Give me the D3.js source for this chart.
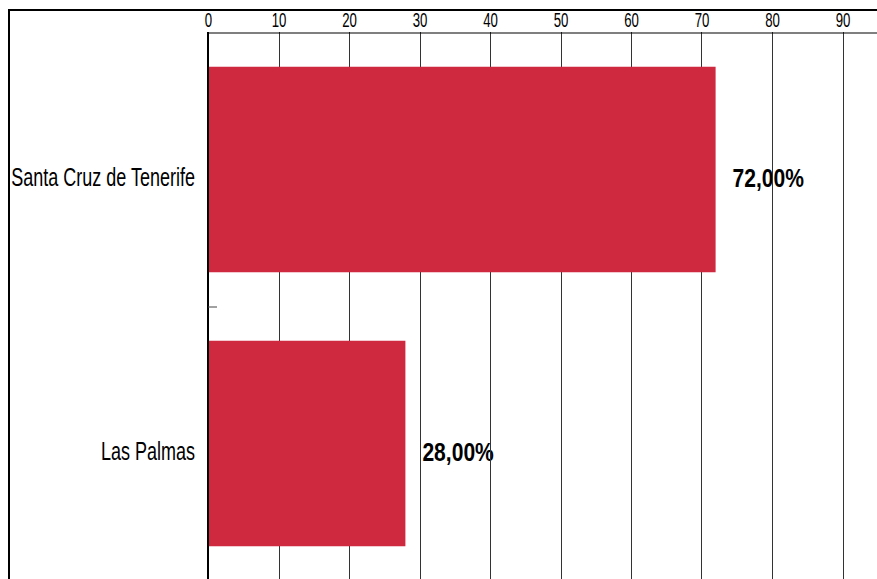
<!DOCTYPE html>
<html><head><meta charset="utf-8">
<script src="https://cdn.jsdelivr.net/npm/d3@7"></script>
<style>html,body{margin:0;padding:0;background:#fff;overflow:hidden}
text{font-family:"Liberation Sans",Arial,sans-serif}</style>
</head><body>
<script>
const categories = ["Santa Cruz de Tenerife", "Las Palmas"];
const values = [72.00, 28.00];
const valueLabels = ["72,00%", "28,00%"];
const xTicks = [0, 10, 20, 30, 40, 50, 60, 70, 80, 90];

const W = 877, H = 579;
const FONT = "'Liberation Sans',Arial,sans-serif";
const svg = d3.select("body").append("svg").attr("width", W).attr("height", H);

const x = d3.scaleLinear().domain([0, 100]).range([208, 913]);
const y = d3.scaleBand().domain(categories).range([32.5, 580.5]).paddingInner(0.25).paddingOuter(0.125);

function condense(sel, ratio) {
  sel.each(function () {
    const w = this.getComputedTextLength();
    d3.select(this).attr("textLength", w * ratio).attr("lengthAdjust", "spacingAndGlyphs");
  });
}

// outer frame
svg.append("rect").attr("x", 9).attr("y", 10).attr("width", W + 20).attr("height", H + 20)
  .attr("fill", "none").attr("stroke", "#000").attr("stroke-width", 2);

// value labels (under gridlines)
const vl = svg.append("g").selectAll("text").data(values).join("text")
  .attr("x", d => x(d) + 17)
  .attr("y", (d, i) => y(categories[i]) + y.bandwidth() / 2 + 17)
  .attr("font-size", 26).attr("font-weight", "bold").attr("fill", "#000")
  .attr("font-family", FONT)
  .text((d, i) => valueLabels[i]);
condense(vl, 0.81);

// gridlines
svg.append("g").selectAll("line").data(xTicks.filter(t => t > 0)).join("line")
  .attr("x1", d => Math.round(x(d)) + 0.5).attr("x2", d => Math.round(x(d)) + 0.5)
  .attr("y1", 32).attr("y2", H)
  .attr("stroke", "#333").attr("stroke-width", 1);

// top axis
const xAxis = d3.axisTop(x).tickValues(xTicks).tickSize(0).tickPadding(6).tickFormat(d3.format("d"));
const gx = svg.append("g").attr("transform", "translate(0,32.5)").call(xAxis);
gx.select(".domain").attr("stroke", "#000").attr("stroke-width", 1.2);
const tl = gx.selectAll("text").attr("font-size", 20).attr("fill", "#000").attr("font-family", FONT);
condense(tl, 0.66);

// bars
svg.append("g").selectAll("rect").data(values).join("rect")
  .attr("x", x(0)).attr("y", (d, i) => y(categories[i]))
  .attr("width", d => x(d) - x(0)).attr("height", y.bandwidth())
  .attr("fill", "#cf2940");

// left axis
const yAxis = d3.axisLeft(y).tickSize(0).tickPadding(13);
const gy = svg.append("g").attr("transform", "translate(208,0)").call(yAxis);
gy.select(".domain").remove();
svg.append("line").attr("x1", 208).attr("x2", 208).attr("y1", 32).attr("y2", H)
  .attr("stroke", "#000").attr("stroke-width", 2);
const cl = gy.selectAll("text").attr("font-size", 25).attr("fill", "#000")
  .attr("dy", null).attr("y", 16.5).attr("font-family", FONT);
condense(cl, 0.72);

// separator tick between bands
const sepY = (y(categories[0]) + y.bandwidth() + y(categories[1])) / 2 + 0.5;
svg.append("line").attr("x1", 208).attr("x2", 217)
  .attr("y1", sepY).attr("y2", sepY)
  .attr("stroke", "#444").attr("stroke-width", 1);
</script>
</body></html>
